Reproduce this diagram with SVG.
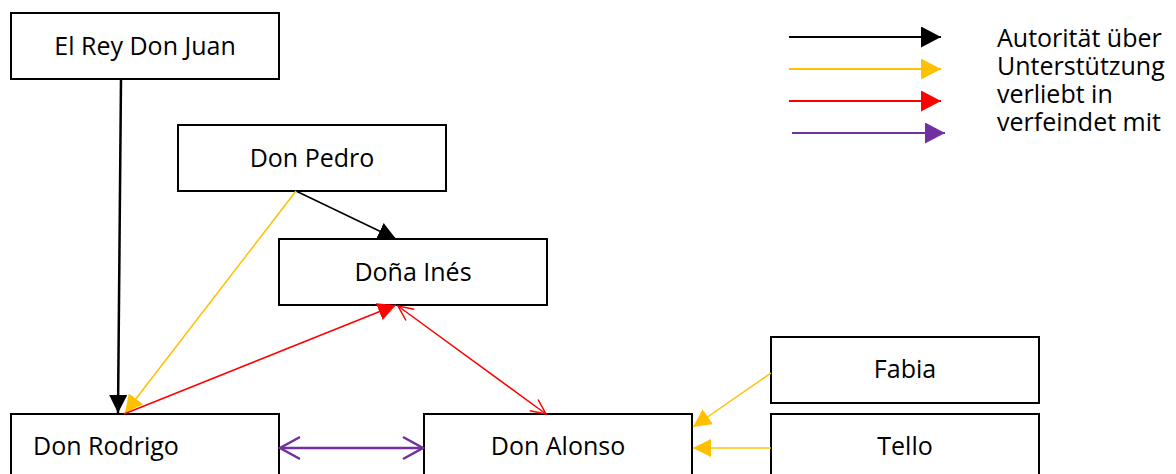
<svg xmlns="http://www.w3.org/2000/svg" width="1176" height="474" viewBox="0 0 1176 474">
<style>
.box{fill:#fff;stroke:#000;stroke-width:2}
.lbl{font-family:"Open Sans","Liberation Sans",sans-serif;font-size:25px;fill:#000}
.c{text-anchor:middle}
.leg{font-family:"Open Sans","Liberation Sans",sans-serif;font-size:25px;fill:#000}
.k{stroke:#000;fill:none}
.y{stroke:#FFC000;fill:none}
.r{stroke:#FF0000;fill:none}
.p{stroke:#7030A0;fill:none}
</style>
<defs>
<marker id="tk" markerUnits="userSpaceOnUse" markerWidth="18" markerHeight="18" refX="18" refY="9" orient="auto"><path d="M0,0 L18,9 L0,18 z" fill="#000"/></marker>
<marker id="ty" markerUnits="userSpaceOnUse" markerWidth="18" markerHeight="18" refX="18" refY="9" orient="auto"><path d="M0,0 L18,9 L0,18 z" fill="#FFC000"/></marker>
<marker id="tr" markerUnits="userSpaceOnUse" markerWidth="18" markerHeight="18" refX="18" refY="9" orient="auto"><path d="M0,0 L18,9 L0,18 z" fill="#FF0000"/></marker>
<marker id="lk" markerUnits="userSpaceOnUse" markerWidth="21" markerHeight="21" refX="20" refY="10.5" orient="auto"><path d="M0,0 L20,10.5 L0,21 z" fill="#000"/></marker>
<marker id="ly" markerUnits="userSpaceOnUse" markerWidth="21" markerHeight="21" refX="20" refY="10.5" orient="auto"><path d="M0,0 L20,10.5 L0,21 z" fill="#FFC000"/></marker>
<marker id="lr" markerUnits="userSpaceOnUse" markerWidth="21" markerHeight="21" refX="20" refY="10.5" orient="auto"><path d="M0,0 L20,10.5 L0,21 z" fill="#FF0000"/></marker>
<marker id="lp" markerUnits="userSpaceOnUse" markerWidth="21" markerHeight="21" refX="20" refY="10.5" orient="auto"><path d="M0,0 L20,10.5 L0,21 z" fill="#7030A0"/></marker>
<marker id="or" markerUnits="userSpaceOnUse" markerWidth="20" markerHeight="20" refX="17" refY="10" orient="auto-start-reverse"><path d="M2,3 L17,10 L2,17" fill="none" stroke="#FF0000" stroke-width="1.5"/></marker>
<marker id="op" markerUnits="userSpaceOnUse" markerWidth="26" markerHeight="26" refX="22" refY="13" orient="auto-start-reverse"><path d="M2,2 L22,13 L2,24" fill="none" stroke="#7030A0" stroke-width="2.5"/></marker>
</defs>

<g id="node-rey"><rect class="box" x="11" y="13" width="268" height="66"/><text class="lbl c" x="145" y="55">El Rey Don Juan</text></g>
<g id="node-pedro"><rect class="box" x="178" y="125" width="268" height="66"/><text class="lbl c" x="312" y="167">Don Pedro</text></g>
<g id="node-ines"><rect class="box" x="279" y="239" width="268" height="66"/><text class="lbl c" x="413" y="281">Doña Inés</text></g>
<g id="node-rodrigo"><rect class="box" x="11" y="414" width="268" height="66"/><text class="lbl" x="33" y="455">Don Rodrigo</text></g>
<g id="node-alonso"><rect class="box" x="424" y="414" width="268" height="66"/><text class="lbl c" x="558" y="455">Don Alonso</text></g>
<g id="node-fabia"><rect class="box" x="771" y="337" width="268" height="66"/><text class="lbl c" x="905" y="378">Fabia</text></g>
<g id="node-tello"><rect class="box" x="771" y="414" width="268" height="66"/><text class="lbl c" x="905" y="455">Tello</text></g>

<g id="connectors">
<line class="k" stroke-width="2.5" x1="121" y1="79" x2="118" y2="413" marker-end="url(#tk)"/>
<line class="k" stroke-width="1.5" x1="296" y1="191" x2="396" y2="239" marker-end="url(#tk)"/>
<line class="y" stroke-width="1.5" x1="296" y1="191" x2="125" y2="413" marker-end="url(#ty)"/>
<line class="r" stroke-width="1.5" x1="124" y1="414" x2="396" y2="305" marker-end="url(#tr)"/>
<line class="r" stroke-width="1.5" x1="398" y1="306" x2="546" y2="414" marker-start="url(#or)" marker-end="url(#or)"/>
<line class="p" stroke-width="2.5" x1="280" y1="448" x2="423" y2="448" marker-start="url(#op)" marker-end="url(#op)"/>
<line class="y" stroke-width="1.5" x1="771" y1="373" x2="693" y2="427" marker-end="url(#ty)"/>
<line class="y" stroke-width="1.5" x1="771" y1="448" x2="693" y2="448" marker-end="url(#ty)"/>
</g>

<g id="legend">
<line class="k" stroke-width="2" x1="789" y1="37" x2="941" y2="37" marker-end="url(#lk)"/>
<line class="y" stroke-width="2" x1="789" y1="69" x2="941" y2="69" marker-end="url(#ly)"/>
<line class="r" stroke-width="2" x1="789" y1="101" x2="941" y2="101" marker-end="url(#lr)"/>
<line class="p" stroke-width="2" x1="792" y1="133" x2="945" y2="133" marker-end="url(#lp)"/>
<text class="leg" x="997" y="47">Autorität über</text>
<text class="leg" x="997" y="75">Unterstützung</text>
<text class="leg" x="997" y="103">verliebt in</text>
<text class="leg" x="997" y="131">verfeindet mit</text>
</g>
</svg>
